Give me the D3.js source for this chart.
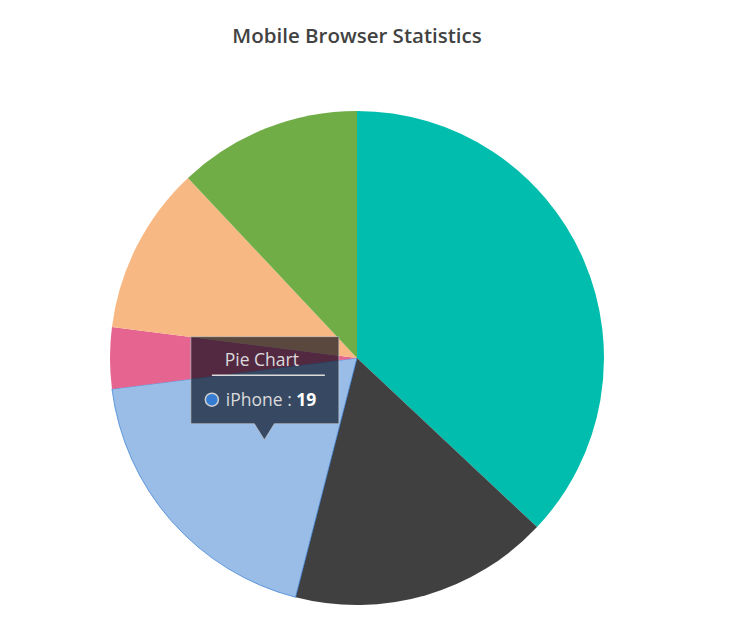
<!DOCTYPE html>
<html>
<head>
<meta charset="utf-8">
<script src="https://cdn.jsdelivr.net/npm/d3@7"></script>
<style>
    body { margin: 0; background: #fff; }
    #svg { display: block; }
    .title-text {
        font-family: "Segoe UI", "Open Sans", sans-serif;
        font-size: 20.5px;
        font-weight: 600;
        fill: #424242;
    }
    .tip-text {
        font-family: "Segoe UI", "Open Sans", sans-serif;
        font-size: 17.5px;
    }
</style>
</head>
<body>
<svg id="svg"></svg>
<script>
const categories = ['Chrome', 'UC Browser', 'iPhone', 'Others', 'Opera', 'Android'];
const values = [37, 17, 19, 4, 11, 12];
const colors = ['#00bdae', '#404041', '#357cd2', '#e56590', '#f8b883', '#70ad47'];
const chartTitle = 'Mobile Browser Statistics';
const seriesName = 'Pie Chart';
const hovered = 2; // iPhone

const width = 741, height = 641;
const cx = 357, cy = 358, radius = 247;

const svg = d3.select('#svg')
    .attr('width', width)
    .attr('height', height);

svg.append('text')
    .attr('class', 'title-text')
    .attr('x', cx)
    .attr('y', 43)
    .attr('text-anchor', 'middle')
    .text(chartTitle);

const data = categories.map((c, i) => ({name: c, value: values[i], color: colors[i]}));

const pie = d3.pie()
    .sort(null)
    .value(d => d.value);

const arc = d3.arc()
    .innerRadius(0)
    .outerRadius(radius);

const arcs = pie(data);

const g = svg.append('g')
    .attr('transform', 'translate(' + cx + ',' + cy + ')');

g.selectAll('path')
    .data(arcs)
  .enter()
    .append('path')
    .attr('d', arc)
    .attr('fill', d => d.data.color)
    .attr('fill-opacity', (d, i) => i === hovered ? 0.5 : 1)
    .attr('stroke', (d, i) => i === hovered ? d.data.color : 'none')
    .attr('stroke-opacity', 0.7)
    .attr('stroke-width', 1);

// tooltip for the hovered slice
const h = arcs[hovered];
const [tx, ty] = arc.centroid(h);
const tipX = cx + tx, tipY = cy + ty;
const boxW = 148, boxH = 87, arrow = 16;
const bx = tipX - boxW / 2 + 0.5, by = tipY - arrow - boxH;

const tip = svg.append('g');

tip.append('path')
    .attr('d', 'M' + bx + ',' + by
        + ' h' + boxW + ' v' + boxH
        + ' H' + (tipX + 10) + ' L' + tipX + ',' + tipY + ' L' + (tipX - 10) + ',' + (by + boxH)
        + ' H' + bx + ' Z')
    .attr('fill', 'rgba(0,8,22,0.64)')
    .attr('stroke', '#cccccc')
    .attr('stroke-opacity', 0.6)
    .attr('stroke-width', 1);

tip.append('text')
    .attr('class', 'tip-text')
    .attr('x', bx + boxW / 2 - 3)
    .attr('y', by + 29)
    .attr('text-anchor', 'middle')
    .attr('fill', '#dbdbdb')
    .text(seriesName);

tip.append('line')
    .attr('x1', bx + 21)
    .attr('x2', bx + 134)
    .attr('y1', by + 38.5)
    .attr('y2', by + 38.5)
    .attr('stroke', '#dbdbdb')
    .attr('stroke-width', 1.5);

tip.append('circle')
    .attr('cx', bx + 21)
    .attr('cy', by + 63)
    .attr('r', 6.5)
    .attr('fill', h.data.color)
    .attr('stroke', '#d0d0d0')
    .attr('stroke-width', 1.5);

const label = tip.append('text')
    .attr('class', 'tip-text')
    .attr('x', bx + 35)
    .attr('y', by + 69)
    .attr('fill', '#dbdbdb');
label.append('tspan').text(h.data.name + ' : ');
label.append('tspan')
    .attr('font-weight', 'bold')
    .attr('fill', '#ffffff')
    .text(h.data.value);
</script>
</body>
</html>
